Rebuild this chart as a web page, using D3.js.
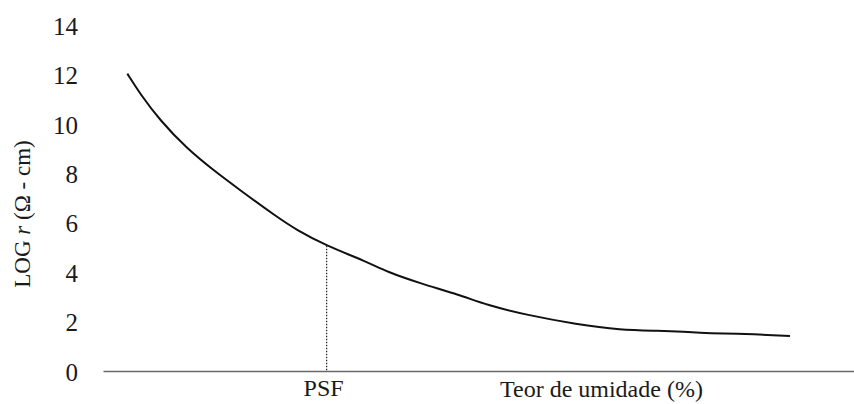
<!DOCTYPE html>
<html>
<head>
<meta charset="utf-8">
<script src="https://cdn.jsdelivr.net/npm/d3@7"></script>
<style>
	body { margin: 0; background: #ffffff; }
	#vis { width: 854px; height: 404px; }
</style>
</head>
<body>
<div id="vis"></div>
<script>

// Moisture content (arbitrary %) and log resistivity
var moisture = [1.62, 2.46, 3.79, 5.57, 7.34, 9.12, 11.56, 12.90, 14.78, 17.56, 18.89,
	21.11, 23.77, 25.55, 28.21, 31.54, 34.42, 37.08, 38.63, 40.19, 43.52, 45.74];
var logR = [12.05, 11.24, 10.16, 9.02, 8.14, 7.33, 6.25, 5.71, 5.10, 4.43, 4.02,
	3.55, 3.08, 2.67, 2.27, 1.89, 1.66, 1.63, 1.59, 1.53, 1.49, 1.42];

var yTicks = [0, 2, 4, 6, 8, 10, 12, 14];
var psfMoisture = [14.89];
var psfLabel = ["PSF"];
var xTitle = "Teor de umidade (%)";


function resistivityChart(){
	// sizes of the picture
	var width = 854;
	var height = 404;
	// a single family name only, lists fall back to sans here
	var serif = "'Liberation Serif'";

	var svg = d3.select("#vis")
		.append("svg")
		.attr("width", width)
		.attr("height", height)
		.style("font-family", serif);

	// scales
	var x = d3.scaleLinear()
		.domain([0, 50])
		.range([103, 854]);

	var y = d3.scaleLinear()
		.domain([0, 14])
		.range([371, 25.5]);

	var points = moisture.map(function(m, i){
		return { x: m, y: logR[i] };
	});


	//////////////////////////////////////////////////////////////////////
	///////////////////////////////  AXES ////////////////////////////////
	//////////////////////////////////////////////////////////////////////

	// y axis: only the numbers, no line and no ticks
	var yAxis = svg.append("g")
		.attr("transform", "translate(" + x.range()[0] + ",0)")
		.call(d3.axisLeft(y).tickValues(yTicks).tickSize(0).tickPadding(25));

	yAxis.attr("font-family", null).attr("font-size", null);
	yAxis.select(".domain").remove();
	yAxis.selectAll("text")
		.style("font-family", serif)
		.style("font-size", "25px")
		.attr("fill", "#1a1a1a")
		.attr("dy", "0.36em");

	// x axis: a bare line, no ticks
	var xAxis = svg.append("g")
		.attr("transform", "translate(0," + y(0) + ")")
		.call(d3.axisBottom(x).tickValues([]).tickSizeOuter(0));

	xAxis.select(".domain")
		.attr("stroke", "#6a6a6a")
		.attr("stroke-width", 1.4);

	// y title, rotated, with italic r
	var yTitle = svg.append("text")
		.attr("transform", "translate(30,214) rotate(-90)")
		.attr("text-anchor", "middle")
		.attr("fill", "#1a1a1a")
		.style("font-family", serif)
		.style("font-size", "23px");

	yTitle.append("tspan").text("LOG ");
	yTitle.append("tspan").style("font-style", "italic").text("r");
	yTitle.append("tspan").text(" (\u03A9 - cm)");

	svg.append("text")
		.attr("x", 500)
		.attr("y", 397)
		.attr("fill", "#1a1a1a")
		.style("font-family", serif)
		.style("font-size", "24px")
		.text(xTitle);


	//////////////////////////////////////////////////////////////////////
	///////////////////////////////  CURVE ///////////////////////////////
	//////////////////////////////////////////////////////////////////////

	var line = d3.line()
		.x(function(d){ return x(d.x); })
		.y(function(d){ return y(d.y); })
		.curve(d3.curveBasis);

	svg.append("path")
		.datum(points)
		.attr("fill", "none")
		.attr("stroke", "#111111")
		.attr("stroke-width", 2)
		.attr("d", line);

	// dotted drop line at PSF
	var psfValue = d3.scaleLinear()
		.domain(moisture)
		.range(logR);

	svg.selectAll(".psf-line")
		.data(psfMoisture)
		.enter().append("line")
		.attr("class", "psf-line")
		.attr("x1", function(d){ return x(d); })
		.attr("x2", function(d){ return x(d); })
		.attr("y1", function(d){ return y(psfValue(d)); })
		.attr("y2", y(0))
		.attr("stroke", "#222222")
		.attr("stroke-width", 1.2)
		.attr("stroke-dasharray", "1.5,1.5");

	svg.selectAll(".psf-label")
		.data(psfMoisture)
		.enter().append("text")
		.attr("class", "psf-label")
		.attr("x", function(d){ return x(d) - 3; })
		.attr("y", 396)
		.attr("text-anchor", "middle")
		.attr("fill", "#1a1a1a")
		.style("font-family", serif)
		.style("font-size", "24px")
		.text(function(d, i){ return psfLabel[i]; });
}

resistivityChart();

</script>
</body>
</html>
